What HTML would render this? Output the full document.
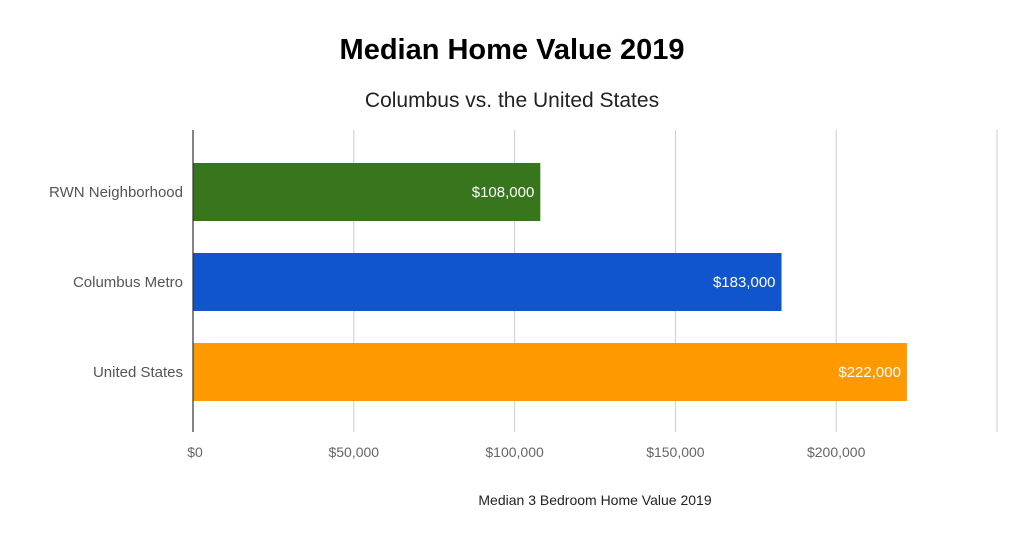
<!DOCTYPE html>
<html><head><meta charset="utf-8"><style>
body{margin:0;background:#fff;}
text{font-family:"Liberation Sans",sans-serif;}
</style></head><body>
<svg width="1024" height="538" xmlns="http://www.w3.org/2000/svg">
<rect width="1024" height="538" fill="#fff"/>
<text x="512" y="59" text-anchor="middle" font-size="29" font-weight="bold" fill="#000">Median Home Value 2019</text>
<text x="512" y="107" text-anchor="middle" font-size="21" fill="#222">Columbus vs. the United States</text>
<g id="grid"></g><g id="bars"></g><g id="labels"></g>
<line x1="193" y1="130" x2="193" y2="432" stroke="#333" stroke-width="1.2"/>
<text x="595" y="505" text-anchor="middle" font-size="14" fill="#222">Median 3 Bedroom Home Value 2019</text>
</svg>
<script>
const categories=["RWN Neighborhood","Columbus Metro","United States"];
const values=[108000,183000,222000];
const valueLabels=["$108,000","$183,000","$222,000"];
const ticks=[0,50000,100000,150000,200000,250000];
const tickLabels=["$0","$50,000","$100,000","$150,000","$200,000",""];
const colors=["#38761d","#1155cc","#ff9900"];
const NS="http://www.w3.org/2000/svg";
const x=v=>193+v*(804/250000);
const top0=147,band=90;
const g=document.getElementById('grid'),b=document.getElementById('bars'),l=document.getElementById('labels');
function mk(tag,attrs,parent){const e=document.createElementNS(NS,tag);for(const k in attrs)e.setAttribute(k,attrs[k]);parent.appendChild(e);return e;}
ticks.forEach((t,i)=>{
 if(i>0){const ln=mk('line',{x1:x(t),x2:x(t),y1:130,y2:432,stroke:'#ccc','stroke-width':1},g);
 
 }
 const tx=mk('text',{x:i==0?x(t)+2:x(t),y:457,'text-anchor':'middle','font-size':14,fill:'#666'},l);
 tx.textContent=tickLabels[i];
 
 
});
categories.forEach((c,i)=>{
 const yc=top0+band*(i+0.5);
 const r=mk('rect',{x:193,y:yc-29,width:x(values[i])-193,height:58,fill:colors[i]},b);
 
 
 const vt=mk('text',{x:x(values[i])-6,y:yc+5,'text-anchor':'end','font-size':15,fill:'#fff'},l);
 vt.textContent=valueLabels[i];
 
 
 const ct=mk('text',{x:183,y:yc+5,'text-anchor':'end','font-size':15,fill:'#555'},l);
 ct.textContent=c;
 
 
});
</script>
</body></html>
